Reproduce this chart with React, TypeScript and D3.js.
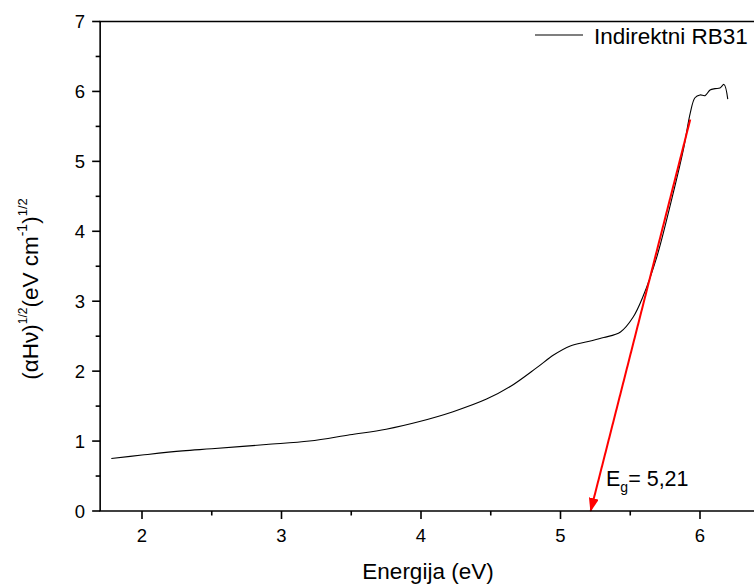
import React from "react";
import * as d3 from "d3";

const energy = [1.78, 2.0, 2.29, 2.5, 2.89, 3.2, 3.49, 3.75, 3.99, 4.23, 4.47, 4.64, 4.83, 4.95, 5.07, 5.19, 5.31, 5.43, 5.52, 5.59, 5.69, 5.79, 5.88, 5.93, 5.964, 6.0, 6.036, 6.072, 6.108, 6.143, 6.172, 6.199];
const values = [0.75, 0.8, 0.86, 0.89, 0.95, 1.0, 1.09, 1.17, 1.28, 1.42, 1.6, 1.78, 2.05, 2.23, 2.36, 2.42, 2.48, 2.56, 2.77, 3.06, 3.63, 4.4, 5.16, 5.69, 5.91, 5.95, 5.94, 6.02, 6.04, 6.05, 6.1, 5.89];
const fitX = [5.93, 5.216];
const fitY = [5.6, 0];
const xTicks = [2, 3, 4, 5, 6];
const xMinor = [2.5, 3.5, 4.5, 5.5];
const yTicks = [0, 1, 2, 3, 4, 5, 6, 7];
const yMinor = [0.5, 1.5, 2.5, 3.5, 4.5, 5.5, 6.5];
const seriesName = "Indirektni RB31";
const egLabel = "5,21";

const FONT = "Arial, 'Liberation Sans', sans-serif";

export default function App() {
  const x = d3.scaleLinear().domain([1.7, 6.4]).range([100.15, 755.8]);
  const y = d3.scaleLinear().domain([0, 7]).range([511, 21.5]);
  const pts = energy.map((e, i) => [e, values[i]] as [number, number]);
  const line = d3
    .line<[number, number]>()
    .x((d) => x(d[0]))
    .y((d) => y(d[1]))
    .curve(d3.curveCatmullRom.alpha(0.5));
  const x0 = x(1.7);
  const yb = y(0);
  const yt = y(7);
  return (
    <svg
      width={754}
      height={585}
      style={{ position: "absolute", left: 0, top: 0, background: "#fff" }}
      fontFamily={FONT}
    >
      <rect x={0} y={0} width={754} height={585} fill="#fff" />
      {/* data */}
      <path d={line(pts) || ""} fill="none" stroke="#000" strokeWidth={1.1} />
      <defs>
        <marker id="ah" markerWidth={14} markerHeight={10} refX={13} refY={5} orient="auto" markerUnits="userSpaceOnUse">
          <path d="M0,0 L14,5 L0,10 Z" fill="#ff0000" />
        </marker>
      </defs>
      <line
        x1={x(fitX[0])}
        y1={y(fitY[0])}
        x2={x(fitX[1])}
        y2={y(fitY[1])}
        stroke="#ff0000"
        strokeWidth={2}
        markerEnd="url(#ah)"
      />
      {/* axes */}
      <line x1={x0} y1={yt} x2={x0} y2={yb} stroke="#000" strokeWidth={1.6} />
      <line x1={x0 - 0.8} y1={yb} x2={754} y2={yb} stroke="#000" strokeWidth={1.6} />
      <line x1={x0 - 0.8} y1={yt} x2={754} y2={yt} stroke="#000" strokeWidth={1.6} />
      {yTicks.map((t) => (
        <g key={"y" + t}>
          <line x1={x0 - 8} x2={x0} y1={y(t)} y2={y(t)} stroke="#000" strokeWidth={1.6} />
          <text x={x0 - 15} y={y(t) + 6.5} textAnchor="end" fontSize={18.5}>
            {t}
          </text>
        </g>
      ))}
      {yMinor.map((t) => (
        <line key={"ym" + t} x1={x0 - 4.5} x2={x0} y1={y(t)} y2={y(t)} stroke="#000" strokeWidth={1.6} />
      ))}
      {xTicks.map((t) => (
        <g key={"x" + t}>
          <line x1={x(t)} x2={x(t)} y1={yb} y2={yb + 8} stroke="#000" strokeWidth={1.6} />
          <text x={x(t)} y={yb + 31} textAnchor="middle" fontSize={18.5}>
            {t}
          </text>
        </g>
      ))}
      {xMinor.map((t) => (
        <line key={"xm" + t} x1={x(t)} x2={x(t)} y1={yb} y2={yb + 4.5} stroke="#000" strokeWidth={1.6} />
      ))}
      {/* axis titles */}
      <text x={428} y={579} textAnchor="middle" fontSize={22.5}>
        Energija (eV)
      </text>
      <text transform="translate(38,289) rotate(-90)" textAnchor="middle" fontSize={22.5}>
        (αHν)
        <tspan fontSize={12} dy={-11}>1/2</tspan>
        <tspan dy={11}>(eV cm</tspan>
        <tspan fontSize={14} dy={-11}>-1</tspan>
        <tspan dy={11}>)</tspan>
        <tspan fontSize={13} dy={-11}>1/2</tspan>
      </text>
      {/* legend */}
      <line x1={535} x2={583} y1={35} y2={35} stroke="#000" strokeWidth={1.1} />
      <text x={594} y={44} fontSize={22.5}>
        {seriesName}
      </text>
      {/* Eg label */}
      <text x={606} y={486} fontSize={21.5}>
        E
        <tspan fontSize={14} dy={6}>g</tspan>
        <tspan dy={-6}>= {egLabel}</tspan>
      </text>
    </svg>
  );
}
